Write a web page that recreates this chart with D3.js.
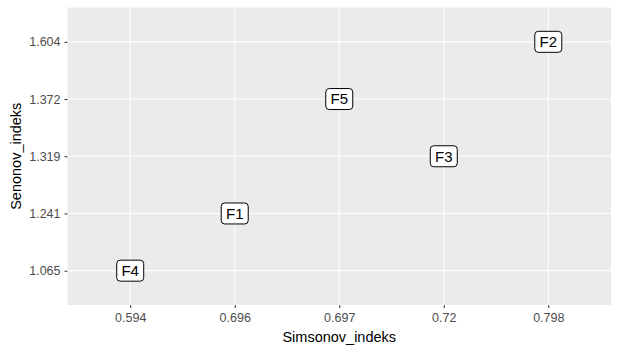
<!DOCTYPE html>
<html>
<head>
    <script src="https://cdnjs.cloudflare.com/ajax/libs/d3/7.8.5/d3.min.js"></script>
    <style>
        body { margin: 0; background: white; }
        svg { display: block; font-family: "Liberation Sans", Arial, sans-serif; }
    </style>
</head>
<body>
    <svg id="chart" width="619" height="352"></svg>
    <script>
        // data
        const names = ["F1", "F2", "F3", "F4", "F5"];
        const simpson = ["0.696", "0.798", "0.72", "0.594", "0.697"];
        const shannon = ["1.241", "1.604", "1.319", "1.065", "1.372"];
        const xTicks = ["0.594", "0.696", "0.697", "0.72", "0.798"];
        const yTicks = ["1.065", "1.241", "1.319", "1.372", "1.604"];

        const width = 619, height = 352;
        const margin = { top: 7.5, right: 8, bottom: 47, left: 67.5 };
        const svg = d3.select("#chart");

        // discrete scales with ggplot-like 0.6 expansion
        const x = d3.scalePoint().domain(xTicks)
            .range([margin.left, width - margin.right]).padding(0.6);
        const y = d3.scalePoint().domain(yTicks)
            .range([height - margin.bottom, margin.top]).padding(0.6);

        // panel
        svg.append("rect")
            .attr("x", margin.left).attr("y", margin.top)
            .attr("width", width - margin.left - margin.right)
            .attr("height", height - margin.top - margin.bottom)
            .attr("fill", "#ebebeb");

        // grid
        svg.append("g").selectAll("line").data(xTicks).enter().append("line")
            .attr("x1", d => x(d)).attr("x2", d => x(d))
            .attr("y1", margin.top).attr("y2", height - margin.bottom)
            .attr("stroke", "white").attr("stroke-width", 1.1);
        svg.append("g").selectAll("line").data(yTicks).enter().append("line")
            .attr("y1", d => y(d)).attr("y2", d => y(d))
            .attr("x1", margin.left).attr("x2", width - margin.right)
            .attr("stroke", "white").attr("stroke-width", 1.1);

        // axes
        const xAxis = svg.append("g")
            .attr("transform", `translate(0,${height - margin.bottom})`)
            .call(d3.axisBottom(x).tickSize(3).tickPadding(5));
        const yAxis = svg.append("g")
            .attr("transform", `translate(${margin.left},0)`)
            .call(d3.axisLeft(y).tickSize(3).tickPadding(4));
        [xAxis, yAxis].forEach(a => {
            a.select(".domain").remove();
            a.selectAll(".tick line").attr("stroke", "#333333");
            a.selectAll(".tick text").attr("fill", "#4d4d4d")
                .style("font-size", "12.5px")
                .style("font-family", "'Liberation Sans', Arial, sans-serif");
        });

        // axis titles
        svg.append("text")
            .attr("x", margin.left + (width - margin.left - margin.right) / 2)
            .attr("y", 342)
            .attr("text-anchor", "middle")
            .style("font-size", "14.5px")
            .text("Simsonov_indeks");
        svg.append("text")
            .attr("transform", `translate(21,${margin.top + (height - margin.top - margin.bottom) / 2}) rotate(-90)`)
            .attr("text-anchor", "middle")
            .style("font-size", "14.5px")
            .text("Senonov_indeks");

        // labels
        const pts = names.map((n, i) => ({ name: n, x: simpson[i], y: shannon[i] }));
        const lab = svg.append("g").selectAll("g").data(pts).enter().append("g")
            .attr("transform", d => `translate(${x(d.x)},${y(d.y)})`);
        lab.append("rect")
            .attr("x", -13.5).attr("y", -10.5)
            .attr("width", 27).attr("height", 21)
            .attr("rx", 3.5)
            .attr("fill", "white").attr("stroke", "black").attr("stroke-width", 1);
        lab.append("text")
            .attr("text-anchor", "middle")
            .attr("dy", "0.36em")
            .style("font-size", "15px")
            .attr("fill", "black")
            .text(d => d.name);
    </script>
</body>
</html>
